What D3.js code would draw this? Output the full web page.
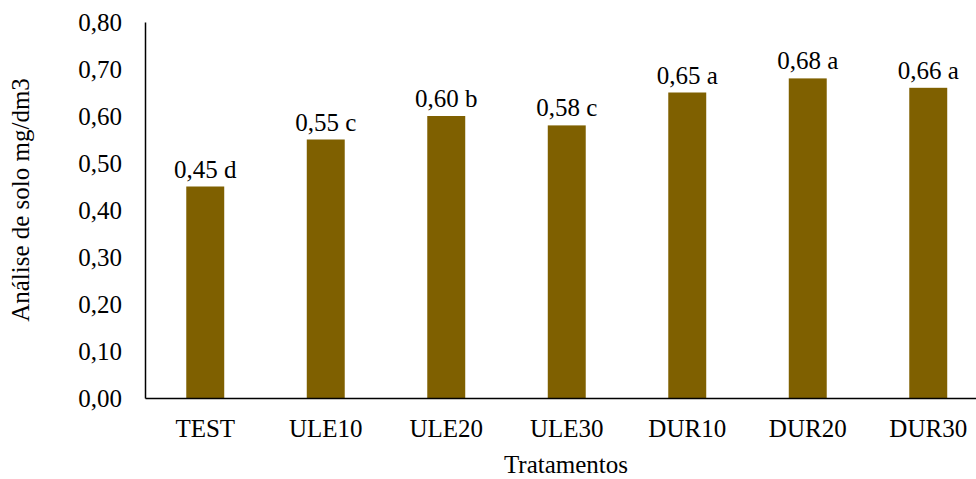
<!DOCTYPE html>
<html>
<head>
<meta charset="utf-8">
<script src="https://cdn.jsdelivr.net/npm/d3@7"></script>
<style>
  body { margin: 0; background: #fff; }
  svg text { font-family: "Liberation Serif", "Times New Roman", serif; fill: #000; }
</style>
</head>
<body>
<svg id="chart" width="976" height="479"></svg>
<script>
// Soil analysis by treatment (mg/dm3), with significance letters
const categories = ["TEST", "ULE10", "ULE20", "ULE30", "DUR10", "DUR20", "DUR30"];
const values = [0.45, 0.55, 0.60, 0.58, 0.65, 0.68, 0.66];
const letters = ["d", "c", "b", "c", "a", "a", "a"];
const yTicks = [0, 0.1, 0.2, 0.3, 0.4, 0.5, 0.6, 0.7, 0.8];

const svg = d3.select("#chart");
const fmt = v => v.toFixed(2).replace(".", ",");
const fontSize = 25;

const plotLeft = 145, plotTop = 22, plotBottom = 398;
const step = 120.5;

const x = d3.scaleBand()
  .domain(categories)
  .range([plotLeft, plotLeft + step * categories.length])
  .paddingInner(0.685)
  .paddingOuter(0.3425);

const y = d3.scaleLinear().domain([0, 0.8]).range([plotBottom, plotTop]);

// Bars
svg.append("g").selectAll("rect")
  .data(categories)
  .join("rect")
  .attr("x", d => x(d))
  .attr("width", x.bandwidth())
  .attr("y", (d, i) => y(values[i]))
  .attr("height", (d, i) => y(0) - y(values[i]))
  .attr("fill", "#7F6000");

// Value labels
svg.append("g").selectAll("text")
  .data(categories)
  .join("text")
  .attr("x", d => x(d) + x.bandwidth() / 2)
  .attr("y", (d, i) => y(values[i]) - 9)
  .attr("text-anchor", "middle")
  .attr("font-size", fontSize)
  .text((d, i) => fmt(values[i]) + " " + letters[i]);

// Y axis
const yAxis = d3.axisLeft(y).tickValues(yTicks).tickFormat(fmt).tickSize(0).tickPadding(23);
const gy = svg.append("g").attr("transform", `translate(${plotLeft},0)`).call(yAxis);
gy.attr("font-family", null);
gy.select(".domain").attr("stroke", "#000").attr("stroke-width", 1.5);
gy.selectAll("text").attr("font-size", fontSize);

// X axis
const xAxis = d3.axisBottom(x).tickSize(0).tickPadding(21);
const gx = svg.append("g").attr("transform", `translate(0,${plotBottom})`).call(xAxis);
gx.attr("font-family", null);
gx.select(".domain").attr("stroke", "#000").attr("stroke-width", 1.5);
gx.selectAll("text").attr("font-size", fontSize);

// Axis titles
svg.append("text")
  .attr("x", 566).attr("y", 473)
  .attr("text-anchor", "middle")
  .attr("font-size", fontSize)
  .text("Tratamentos");

svg.append("text")
  .attr("transform", "translate(29,200) rotate(-90)")
  .attr("text-anchor", "middle")
  .attr("font-size", fontSize)
  .text("Análise de solo mg/dm3");
</script>
</body>
</html>
